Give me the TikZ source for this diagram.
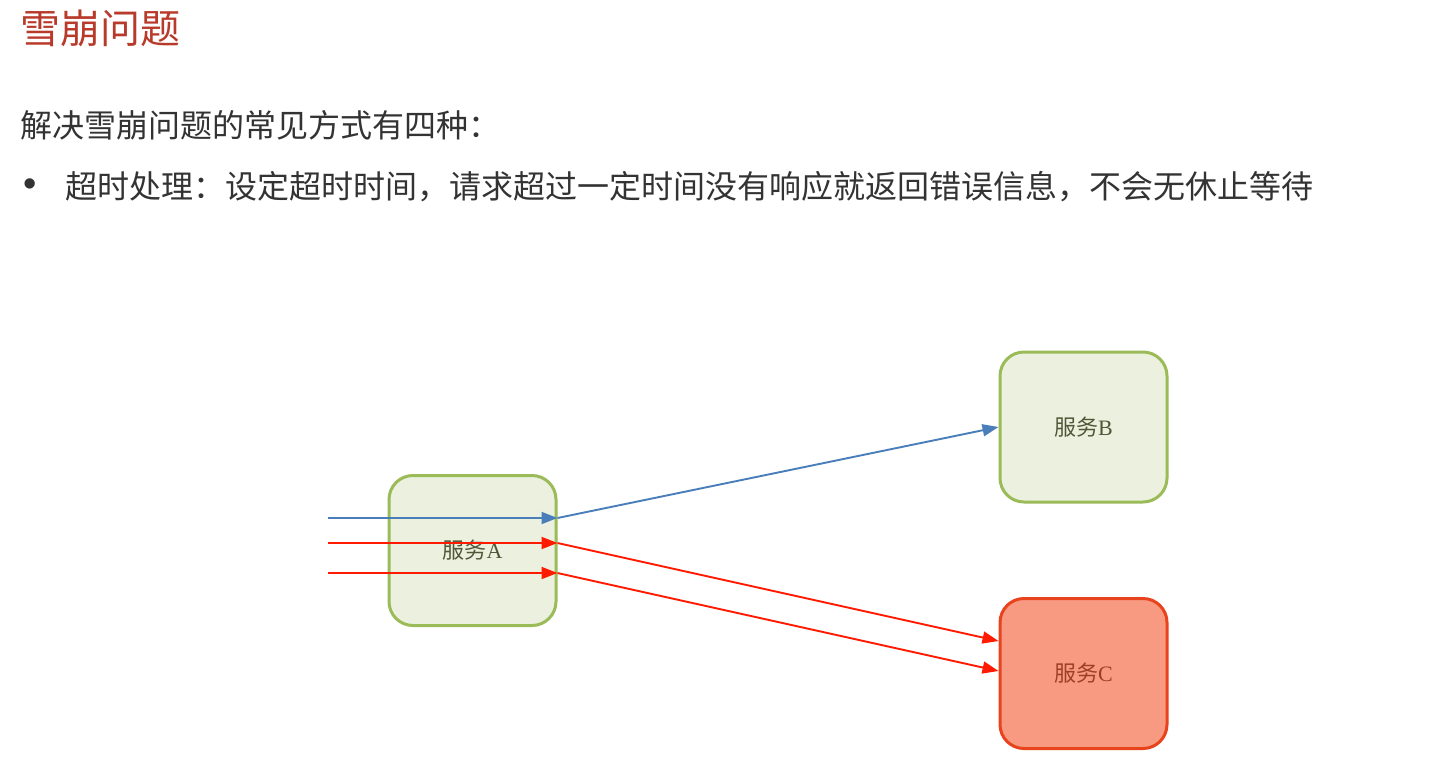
\documentclass[tikz,border=0pt]{standalone}
\usepackage{fontspec}
\setmainfont{Liberation Serif}
\newfontfamily\cjk{Noto Sans CJK SC}
\newfontfamily\bulletfont{Liberation Sans}
\usetikzlibrary{arrows.meta}
\definecolor{titlered}{HTML}{B83A2B}
\definecolor{bodytext}{HTML}{333333}
\definecolor{grnfill}{HTML}{EBF1DE}
\definecolor{grnline}{HTML}{9BBB59}
\definecolor{redfill}{HTML}{F89A82}
\definecolor{redline}{HTML}{E8431C}
\definecolor{grntext}{HTML}{4E5838}
\definecolor{redtext}{HTML}{9C3F27}
\definecolor{blueline}{HTML}{4A7EBB}
\definecolor{redarrow}{HTML}{FF1A00}
\tikzset{
  svcbox/.style={draw=grnline, fill=grnfill, line width=3pt, rounded corners=24pt,
    minimum width=167pt, minimum height=150pt, inner sep=0pt, text=grntext,
    font=\fontsize{22pt}{24pt}\selectfont},
  badbox/.style={svcbox, draw=redline, fill=redfill, text=redtext},
  blueconn/.style={draw=blueline, line width=1.9pt, -{Triangle[length=16pt,width=12pt]}},
  redconn/.style={draw=redarrow, line width=1.9pt, -{Triangle[length=16pt,width=12pt]}},
  heading/.style={anchor=west, inner sep=0pt, text=titlered, font=\cjk\fontsize{40pt}{44pt}\selectfont},
  bodyline/.style={anchor=west, inner sep=0pt, text=bodytext, font=\cjk\fontsize{32pt}{36pt}\selectfont},
  bulletmark/.style={anchor=center, inner sep=0pt, text=bodytext, font=\bulletfont\fontsize{38pt}{40pt}\selectfont}
}
\begin{document}
\begin{tikzpicture}[x=1pt, y=-1pt]
\fill[white] (0,0) rectangle (1442,771);
\useasboundingbox (0,0) rectangle (1442,771);

\node[heading] (title) at (20,28) {雪崩问题};
\node[bodyline] (intro) at (20,125) {解决雪崩问题的常见方式有四种：};
\node[bulletmark] (bullet) at (30,188) {•};
\node[bodyline] (item) at (65,187) {超时处理：设定超时时间，请求超过一定时间没有响应就返回错误信息，不会无休止等待};

\node[svcbox] (A) at (472.5,550.5) {{\cjk 服务}A};
\node[svcbox] (B) at (1083.5,427) {{\cjk 服务}B};
\node[badbox] (C) at (1083.5,673.5) {{\cjk 服务}C};

\coordinate (in1) at (328,518);
\coordinate (in2) at (328,543);
\coordinate (in3) at (328,573);
\coordinate (c1) at (999,641);
\coordinate (c2) at (999,671);

\draw[blueconn] (in1) -- (in1 -| A.east);
\draw[redconn] (in2) -- (in2 -| A.east);
\draw[redconn] (in3) -- (in3 -| A.east);
\draw[blueconn] (in1 -| A.east) -- (B.west);
\draw[redconn] (in2 -| A.east) -- (c1 -| C.west);
\draw[redconn] (in3 -| A.east) -- (c2 -| C.west);
\end{tikzpicture}
\end{document}
